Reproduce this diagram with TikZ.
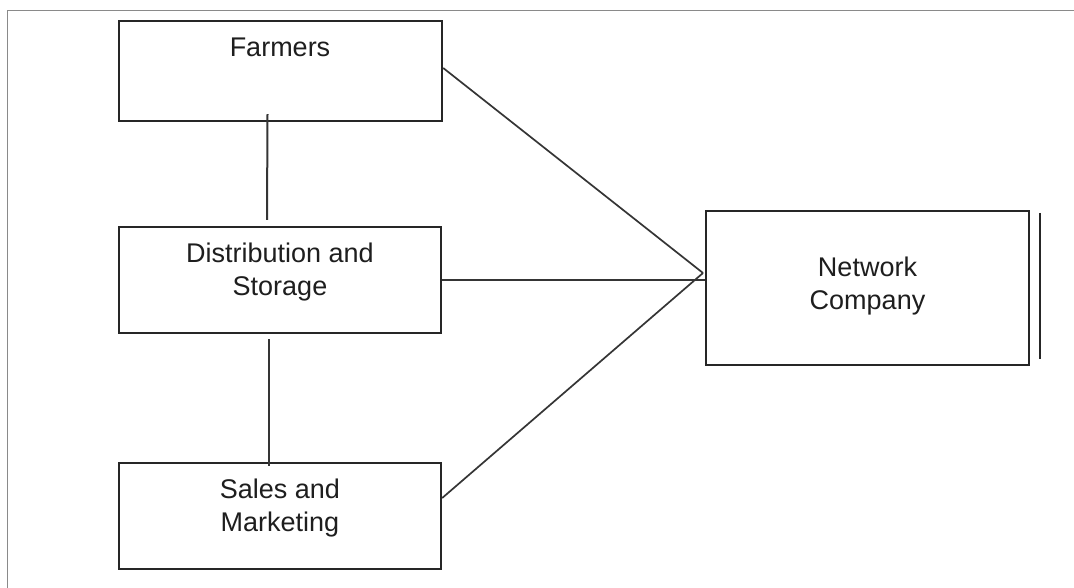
\documentclass[tikz,border=0pt]{standalone}
\usepackage{fontspec}
\setmainfont{Liberation Sans}
\definecolor{edge}{HTML}{262626}
\definecolor{wire}{HTML}{353535}
\definecolor{framegray}{HTML}{8A8A8A}
\definecolor{ink}{HTML}{1E1E1E}
\begin{document}
\begin{tikzpicture}[x=1pt,y=-1pt,
  unit/.style={draw=edge, line width=2.4pt, rectangle, inner sep=0pt},
  caption/.style={text=ink, align=center, font=\fontsize{27pt}{33pt}\selectfont, inner sep=0pt},
  link/.style={draw=wire, line width=1.7pt}]
  \useasboundingbox (0,0) rectangle (1074,588);
  \fill[white] (0,0) rectangle (1074,588);
  % page frame (top and left only)
  \draw[framegray, line width=1.5pt] (1074,10.5) -- (7.5,10.5) -- (7.5,588);

  % boxes
  \node[unit, minimum width=323pt, minimum height=100pt] (farmers) at (280.5,71) {};
  \node[unit, minimum width=322pt, minimum height=106pt] (dist) at (280,280) {};
  \node[unit, minimum width=322pt, minimum height=106pt] (sales) at (280,516) {};
  \node[unit, minimum width=323pt, minimum height=154pt] (network) at (867.5,288) {};

  % box texts
  \node[caption] (farmersText) at (280,47) {Farmers};
  \node[caption] (distText) at (280,272) {Distribution and\\Storage};
  \node[caption] (salesText) at (280,508) {Sales and\\Marketing};
  \node[caption] (networkText) at (867.5,286) {Network\\Company};

  % side bar next to the network box
  \draw[edge, line width=2pt] ([xshift=10pt,yshift=-3pt]network.north east) -- ([xshift=10pt,yshift=7pt]network.south east);

  % vertical links between the left boxes
  \draw[link, line width=2pt] ([xshift=-13pt,yshift=8pt]farmers.south) -- ([xshift=-13pt,yshift=6pt]dist.north);
  \draw[link, line width=2pt] ([xshift=-11pt,yshift=-5pt]dist.south) -- ([xshift=-11pt,yshift=-4pt]sales.north);

  % links into the network company
  \coordinate (hub) at (703,273);
  \draw[link] ([yshift=3pt]farmers.east) -- (hub);
  \draw[link] ([yshift=18pt]sales.east) -- (hub);
  \draw[link] (dist.east) -- (network.west |- dist.east);
\end{tikzpicture}
\end{document}
